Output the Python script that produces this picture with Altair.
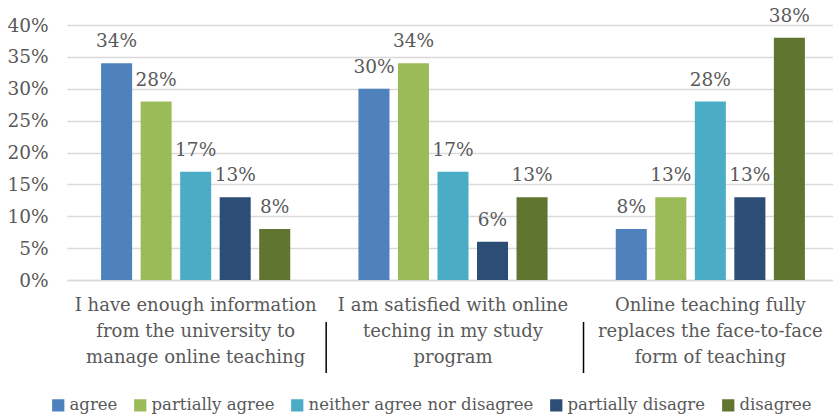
import altair as alt
import pandas as pd

categories = [
    "I have enough information|from the university to|manage online teaching",
    "I am satisfied with online|teching in my study|program",
    "Online teaching fully|replaces the face-to-face|form of teaching",
]
series = ["agree", "partially agree", "neither agree nor disagree", "partially disagre", "disagree"]
colors = ["#4f81bd", "#9bbb59", "#4bacc6", "#2c4d75", "#5f7530"]

agree = [0.34, 0.30, 0.08]
partially_agree = [0.28, 0.34, 0.13]
neither = [0.17, 0.17, 0.28]
partially_disagree = [0.13, 0.06, 0.13]
disagree = [0.08, 0.13, 0.38]

y_ticks = [0, 0.05, 0.10, 0.15, 0.20, 0.25, 0.30, 0.35, 0.40]

series_values = [agree, partially_agree, neither, partially_disagree, disagree]
rows = []
for s, vals in zip(series, series_values):
    for c, v in zip(categories, vals):
        rows.append({"category": c, "series": s, "value": v})
df = pd.DataFrame(rows)
sep_df = pd.DataFrame({"category": categories[1:]})

FONT = "DejaVu Serif"
TXT = "#595959"
W, H = 766, 255

xscale = alt.Scale(domain=categories, range=[0, 772], paddingInner=0.232, paddingOuter=0.116)

base = alt.Chart(df).encode(
    x=alt.X(
        "category:N",
        sort=categories,
        scale=xscale,
        axis=alt.Axis(
            title=None,
            labelAngle=0,
            labelExpr="split(datum.label, '|')",
            labelFont=FONT,
            labelFontSize=18,
            labelColor=TXT,
            labelLineHeight=26,
            labelPadding=16,
            labelBaseline="top",
            labelLimit=0,
            ticks=False,
            domainColor="#d9d9d9",
            domainWidth=1.5,
            grid=False,
        ),
    ),
    xOffset=alt.XOffset("series:N", sort=series, scale=alt.Scale(domain=series, paddingInner=0.215, paddingOuter=0.1075)),
    y=alt.Y(
        "value:Q",
        scale=alt.Scale(domain=[0, 0.4], nice=False),
        axis=alt.Axis(
            title=None,
            values=y_ticks,
            format=".0%",
            labelFont=FONT,
            labelFontSize=18.5,
            labelColor=TXT,
            labelPadding=19,
            ticks=False,
            domain=False,
            gridColor="#d9d9d9",
            gridWidth=1.3,
        ),
    ),
)

bars = base.mark_bar().encode(
    color=alt.Color(
        "series:N",
        sort=series,
        scale=alt.Scale(domain=series, range=colors),
        legend=alt.Legend(
            title=None,
            orient="none",
            direction="horizontal",
            legendX=-17,
            legendY=372,
            symbolType="square",
            symbolSize=150,
            symbolStrokeWidth=0,
            labelFont=FONT,
            labelFontSize=16.5,
            labelColor=TXT,
            labelOffset=3,
            labelLimit=0,
            columnPadding=14,
        ),
    )
)

labels = base.mark_text(
    baseline="alphabetic", dy=-16, font=FONT, fontSize=18.5, color=TXT
).encode(text=alt.Text("value:Q", format=".0%"))

seps = alt.Chart(sep_df).mark_rule(color="#000000", strokeWidth=1.5, xOffset=-28).encode(
    x=alt.X("category:N", sort=categories, scale=xscale, bandPosition=0),
    y=alt.value(H + 42),
    y2=alt.value(H + 93),
)

chart = (
    alt.layer(bars, labels, seps)
    .properties(
        width=W,
        height=H,
        autosize=alt.AutoSizeParams(type="none"),
        padding={"left": 67, "top": 25, "right": 0, "bottom": 140},
        background="white",
    )
    .configure_view(stroke=None)
)

chart.save("out.html", embed_options={"renderer": "svg", "actions": False})
